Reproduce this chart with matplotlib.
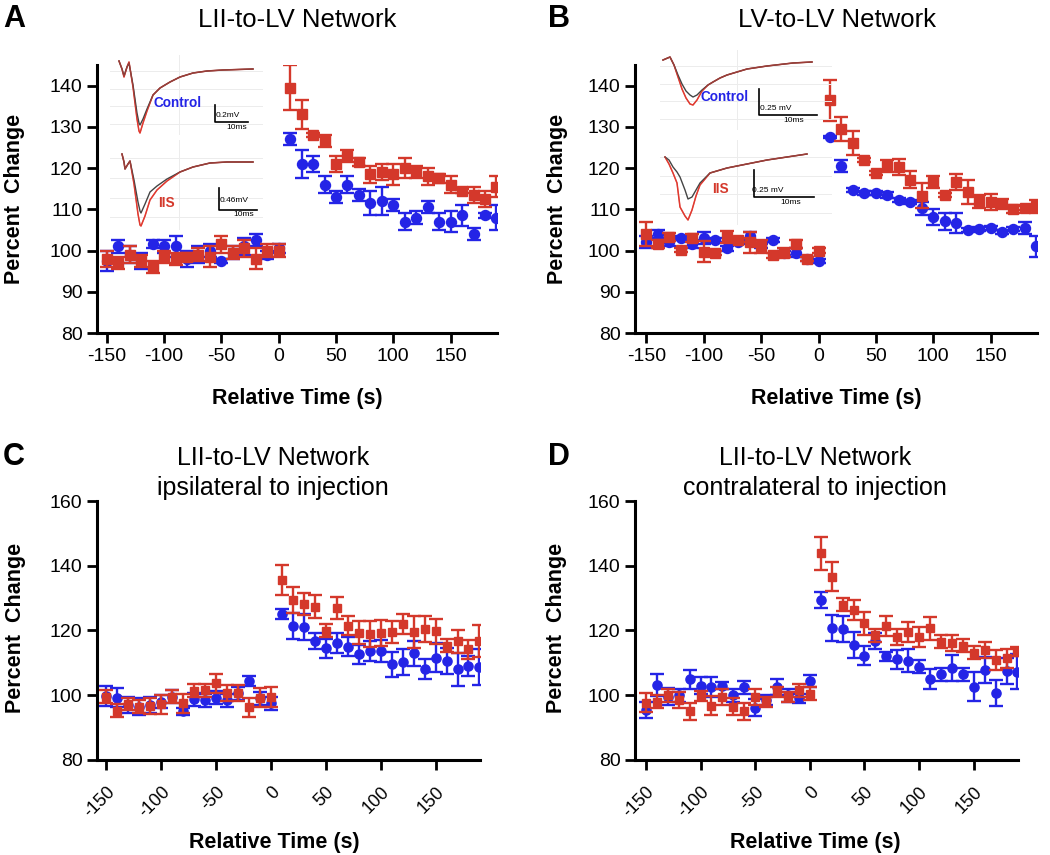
import matplotlib.pyplot as plt

plt.rcParams['font.family'] = ['Liberation Sans', 'DejaVu Sans']
plt.rcParams['axes.unicode_minus'] = False

# relative time (s)
times = [-150, -140, -130, -120, -110, -100, -90, -80, -70, -60, -50, -40, -30, -20, -10, 0,
         10, 20, 30, 40, 50, 60, 70, 80, 90, 100, 110, 120, 130, 140, 150, 160, 170, 180, 190]

# panel A: LII-to-LV
a_ctrl = [97.5, 101, 99, 97.5, 101.5, 101, 101, 98, 99, 100, 97.5, 99.5, 101, 102.5, 99, 100.5,
          127, 121, 121, 116, 113, 116, 113.5, 111.5, 112, 111, 107, 108, 110.5, 107, 107, 108.5, 104, 108.5, 108]
a_ctrl_err = [2.5, 1.5, 2, 2, 1, 1.5, 2.5, 2, 2, 1.5, 0.5, 1.5, 2, 1.5, 1, 1,
              1.5, 3.5, 2, 2, 1.5, 2, 1.5, 3, 3.5, 1.5, 2, 1.5, 1.5, 2, 2.5, 2.5, 1.5, 0.5, 3]
a_iis = [98, 97, 99, 97.5, 96, 98.5, 98, 98.5, 99, 98.5, 101.5, 99.5, 100.5, 98, 100, 100,
         139.5, 133, 128, 126.5, 121, 123, 121.5, 118.5, 119, 118.5, 120, 119, 118, 117.5, 116, 114.5, 113.5, 112.5, 115.5]
a_iis_err = [2, 1.5, 2, 1.5, 1.5, 1.5, 1.5, 1, 1.5, 2.5, 2, 1.5, 2, 2.5, 1.5, 1.5,
             5.5, 3.5, 0.5, 1.5, 2, 1.5, 1, 2, 2, 2.5, 2.5, 1.5, 2, 1, 2, 0.5, 2, 2, 2.5]

# panel B: LV-to-LV
b_ctrl = [102, 104, 102, 103, 101.5, 103, 102.5, 100.5, 102, 103.5, 101, 102.5, 99.5, 99.5, 98, 97.5,
          127.5, 120.5, 114.7, 114, 114, 113.5, 112.3, 111.8, 110.2, 108.1, 107.1, 106.7, 105, 105.3, 105.5, 104.5, 105.3, 105.5, 101]
b_ctrl_err = [1.5, 1, 1, 0.5, 1, 1.5, 0.5, 0.5, 0.5, 1, 0.5, 0.5, 0.5, 1, 0.5, 0.5,
              0.3, 1.5, 0.5, 0.5, 0.5, 0.8, 0.5, 0.5, 1.5, 2, 2, 2.5, 0.5, 0.5, 0.5, 0.5, 0.5, 1.5, 2.5]
b_iis = [104, 101.5, 103.2, 100.2, 103, 99.7, 99.5, 103.3, 102.5, 102, 101, 98.8, 99.5, 101.5, 98, 100,
         136.4, 129.5, 126.1, 121.9, 118.9, 120.5, 120.2, 117.2, 113.3, 116.6, 113.4, 116.6, 114.2, 111.9, 111.8, 111.4, 110, 110.4, 110.7]
b_iis_err = [3, 1, 1, 0.5, 1, 2.5, 0.5, 1.5, 0.5, 2.5, 1.5, 0.5, 1, 1, 0.5, 0.5,
             5, 3, 3, 0.5, 0.5, 1.5, 2, 2, 3, 1.5, 0.5, 2, 3, 1.5, 2, 1, 1, 0.5, 1.5]

# panel C: LII-to-LV ipsilateral
c_ctrl = [99.8, 99.3, 97, 96.5, 97, 98, 99.5, 95, 98.7, 98.5, 99.2, 98.5, 100.6, 104.5, 99, 97.5,
          125, 121.4, 121, 116.8, 114.5, 116.2, 115, 112.6, 113.7, 113.7, 109.5, 110.2, 112.9, 108.1, 111.6, 110.7, 108, 109.1, 108.8]
c_ctrl_err = [3, 3, 2.5, 2.5, 2.5, 2, 2, 1, 2, 2, 2, 2, 2, 1.5, 2, 2,
              1.5, 4, 4, 2.5, 3, 3, 3, 3, 3, 3.5, 4, 4, 4, 3, 4.5, 4, 5, 3, 5.5]
c_iis = [99.5, 95.2, 97.3, 96.5, 96.7, 97.2, 99.5, 97.5, 101.4, 101.5, 103.7, 100.8, 100.6, 96.3, 99.3, 99.5,
         135.6, 129.4, 128.2, 127.4, 119.9, 127, 121.5, 119.3, 119, 119.2, 119.5, 122, 119.5, 120.4, 119.7, 115.3, 116.7, 114.2, 116.7]
c_iis_err = [2, 2, 2, 2, 2.5, 3, 2, 3, 2, 2, 3, 2.5, 2.5, 3, 3, 3,
             4.5, 4, 3.5, 3.5, 2, 3.5, 3, 3.5, 4, 4, 3.5, 3, 5, 4, 4, 2, 3.5, 3, 5]

# panel D: LII-to-LV contralateral
d_ctrl = [95.4, 103.2, 99.6, 100, 104.9, 103, 102.5, 103, 100, 102.5, 96.2, 98.5, 102.5, 100, 99, 104.4,
          129.4, 120.7, 120.5, 115.5, 112.2, 116.8, 112, 111.1, 110.7, 108.8, 105, 106.5, 108.3, 106.5, 102.6, 107.7, 100.8, 107.5, 107.3]
d_ctrl_err = [2.5, 3.5, 2.5, 2, 3, 2.5, 3, 1, 2, 2, 2.5, 1.5, 2.5, 2, 1.5, 2,
              2.5, 4, 4, 4, 3, 2.5, 1.5, 3, 3.5, 2, 3, 2, 4, 2, 4.5, 4, 4, 4, 5.5]
d_iis = [97.7, 98, 100, 98.5, 95, 99.7, 96.8, 99.5, 96.5, 95, 99.5, 98, 101, 99.5, 101.5, 100.5,
         143.8, 136.6, 127.9, 126.3, 122.2, 118.6, 121.4, 118.1, 119.6, 118, 120.7, 116.5, 116.2, 115.3, 113.1, 114, 110.9, 111.4, 113.5]
d_iis_err = [3, 2, 2, 2.5, 2.5, 1.5, 3, 2.5, 2.5, 2.5, 2.5, 1.5, 1.5, 1.5, 2, 2,
             5, 4.5, 2, 3, 3.5, 2, 3, 2.5, 3, 3, 3.5, 2, 2.5, 2, 2, 2.5, 3, 3, 1.5]

# example traces in the insets (arbitrary units, y downwards)
ta_top_x = [9, 12, 14, 17, 19, 23, 27, 29, 30, 33, 37, 43, 50, 60, 70, 83, 97, 113, 143]
ta_top_blk = [6, 14, 21, 12, 8, 30, 58, 68, 70, 64, 54, 40, 33, 27, 22, 18, 16, 15, 14]
ta_top_red = [6, 14, 22, 12, 7, 32, 64, 76, 78, 68, 56, 40, 33, 27, 22, 18, 16, 15, 14]
ta_bot_x = [12, 14, 15, 18, 20, 24, 28, 30, 31, 35, 40, 47, 57, 70, 83, 100, 117, 143]
ta_bot_blk = [14, 22, 29, 24, 21, 40, 62, 71, 73, 64, 52, 46, 39, 32, 27, 23, 22, 22]
ta_bot_red = [14, 22, 29, 24, 21, 44, 74, 85, 86, 76, 60, 50, 41, 32, 27, 23, 22, 22]
tb_top_x = [3, 10, 14, 18, 22, 26, 30, 33, 37, 42, 48, 53, 60, 67, 77, 87, 107, 133, 152]
tb_top_blk = [10, 7, 15, 25, 34, 41, 45, 47, 45, 40, 35, 32, 28, 25, 22, 19, 16, 13, 12]
tb_top_red = [10, 7, 15, 27, 39, 48, 54, 55, 50, 41, 35, 32, 28, 25, 22, 19, 16, 13, 12]
tb_bot_x = [5, 9, 13, 17, 20, 25, 28, 32, 36, 40, 50, 67, 87, 107, 127, 147]
tb_bot_blk = [17, 20, 27, 32, 37, 50, 59, 57, 50, 43, 33, 28, 24, 20, 17, 14]
tb_bot_red = [17, 24, 33, 43, 67, 76, 80, 70, 56, 45, 33, 28, 24, 20, 17, 14]

BLUE = '#2424e6'
RED = '#d4382b'
W, H = 1050, 855

fig = plt.figure(figsize=(W / 100, H / 100), dpi=100)


def px_axes(x0, y0, w, h):
    return fig.add_axes([x0 / W, 1 - (y0 + h) / H, w / W, h / H])


def panel(ax, ctrl, ctrl_err, iis, iis_err, xlim, ylim, yticks, rotate, ms, cap):
    ax.errorbar(times, ctrl, yerr=ctrl_err, fmt='o', color=BLUE, ms=ms + 0.4, elinewidth=1.7,
                capsize=cap, capthick=1.7, zorder=3)
    ax.errorbar(times, iis, yerr=iis_err, fmt='s', color=RED, ms=ms, elinewidth=1.7,
                capsize=cap, capthick=1.7, zorder=4)
    ax.set_xlim(*xlim)
    ax.set_ylim(*ylim)
    ax.set_yticks(yticks)
    ax.set_xticks([-150, -100, -50, 0, 50, 100, 150])
    for s in ['top', 'right']:
        ax.spines[s].set_visible(False)
    for s in ['left', 'bottom']:
        ax.spines[s].set_linewidth(2.2)
    ax.tick_params(width=2, length=7, labelsize=14, direction='out')
    if rotate:
        ax.set_xticklabels(['-150', '-100', '-50', '0', '50', '100', '150'],
                           rotation=45, ha='right', rotation_mode='anchor', fontsize=13)
        ax.tick_params(axis='x', pad=10)
    ax.set_ylabel('Percent  Change', fontsize=15.5, fontweight='bold', va='center')
    ax.set_xlabel('Relative Time (s)', fontsize=15.5, fontweight='bold', va='center')


axA = px_axes(97, 65, 400, 268)
panel(axA, a_ctrl, a_ctrl_err, a_iis, a_iis_err, (-158.5, 190.5), (80, 145),
      [80, 90, 100, 110, 120, 130, 140], False, 6.8, 5.2)
axA.yaxis.set_label_coords(-0.205, 0.5)
axA.xaxis.set_label_coords(0.5, -0.243)

axB = px_axes(635, 65, 402, 268)
panel(axB, b_ctrl, b_ctrl_err, b_iis, b_iis_err, (-160, 190.5), (80, 145),
      [80, 90, 100, 110, 120, 130, 140], False, 6.8, 5.2)
axB.yaxis.set_label_coords(-0.194, 0.5)
axB.xaxis.set_label_coords(0.502, -0.243)

axC = px_axes(97, 501, 383, 259)
panel(axC, c_ctrl, c_ctrl_err, c_iis, c_iis_err, (-158.5, 190.5), (80, 160),
      [80, 100, 120, 140, 160], True, 6.2, 4.8)
axC.yaxis.set_label_coords(-0.214, 0.51)
axC.xaxis.set_label_coords(0.463, -0.317)

axD = px_axes(635, 501, 383, 259)
panel(axD, d_ctrl, d_ctrl_err, d_iis, d_iis_err, (-160, 190.5), (80, 160),
      [80, 100, 120, 140, 160], True, 6.2, 4.8)
axD.yaxis.set_label_coords(-0.204, 0.51)
axD.xaxis.set_label_coords(0.47, -0.317)

# titles and panel letters
fig.text(297 / W, 1 - 20 / H, 'LII-to-LV Network', ha='center', va='center', fontsize=18.5)
fig.text(837 / W, 1 - 20 / H, 'LV-to-LV Network', ha='center', va='center', fontsize=18.5)
fig.text(273 / W, 1 - 473 / H, 'LII-to-LV Network\nipsilateral to injection', ha='center',
         va='center', fontsize=18, linespacing=1.35)
fig.text(815 / W, 1 - 473 / H, 'LII-to-LV Network\ncontralateral to injection', ha='center',
         va='center', fontsize=18, linespacing=1.35)
for letter, (lx, ly) in zip('ABCD', [(14, 19), (559, 19), (14, 457), (559, 457)]):
    fig.text(lx / W, 1 - ly / H, letter, ha='center', va='center', fontsize=22, fontweight='bold')


def inset(x0, y0, w, h, tx, blk, red, label, lcol, lpos, bar, bar_txt, bar_txt_pos, ms_pos):
    ax = px_axes(x0, y0, w, h)
    ax.set_xlim(0, w)
    ax.set_ylim(h, 0)
    ax.axis('off')
    ax.patch.set_alpha(0)
    for gy in [h * 0.2, h * 0.42, h * 0.64, h * 0.86]:
        ax.plot([0, w * 0.95], [gy, gy], color='#ececec', lw=0.7, zorder=0)
    ax.plot([w * 0.43, w * 0.43], [0, h], color='#ececec', lw=0.7, zorder=0)
    ax.plot(tx, red, color='#e03a30', lw=1.1, zorder=2)
    ax.plot(tx, blk, color='#444444', lw=1.0, zorder=3)
    ax.plot(tx, red, color='#e03a30', lw=0.8, alpha=0.6, zorder=4)
    ax.text(lpos[0], lpos[1], label, color=lcol, fontsize=9.8, fontweight='bold',
            ha='center', va='center')
    bx, by0, by1, bx1 = bar
    ax.plot([bx, bx, bx1], [by0, by1, by1], color='black', lw=1.2)
    ax.text(bar_txt_pos[0], bar_txt_pos[1], bar_txt, fontsize=6, ha='left', va='center')
    ax.text(ms_pos[0], ms_pos[1], '10ms', fontsize=6, ha='left', va='center')


inset(110, 55, 160, 80, ta_top_x, ta_top_blk, ta_top_red, 'Control', BLUE, (68, 48),
      (105, 50, 67, 138), '0.2mV', (106, 60), (116, 72))
inset(110, 140, 160, 90, ta_bot_x, ta_bot_blk, ta_bot_red, 'IIS', RED, (56, 63),
      (109, 48, 70, 147), '0.46mV', (110, 60), (123, 74))
inset(660, 50, 180, 80, tb_top_x, tb_top_blk, tb_top_red, 'Control', BLUE, (65, 47),
      (99, 39, 65, 157), '0.25 mV', (100, 59), (123, 71))
inset(660, 140, 180, 85, tb_bot_x, tb_bot_blk, tb_bot_red, 'IIS', RED, (60, 49),
      (94, 30, 57, 154), '0.25 mV', (92, 50), (120, 63))

fig.savefig('out.png', dpi=100)
